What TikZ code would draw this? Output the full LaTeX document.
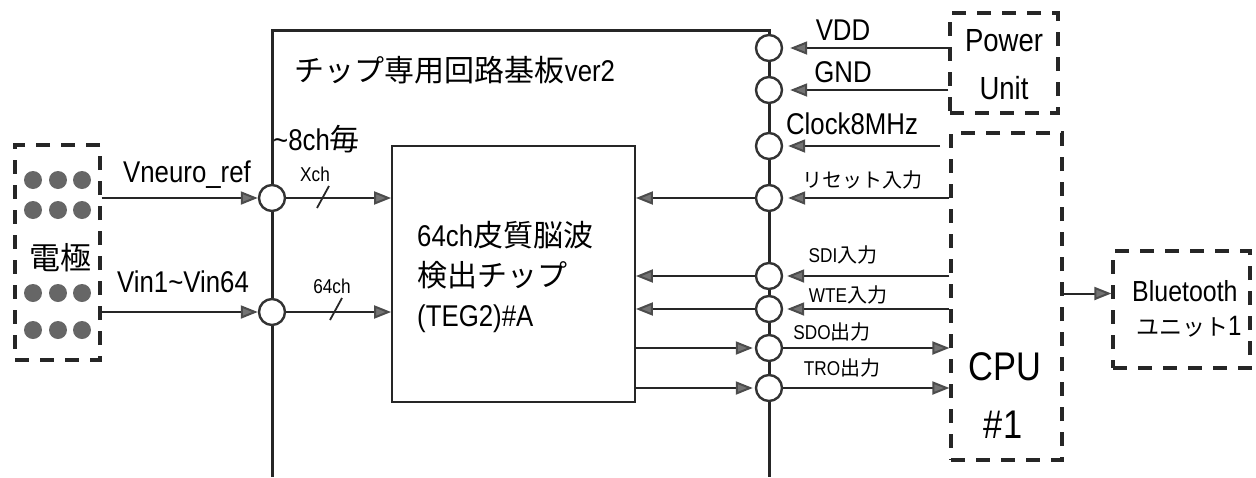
\documentclass[tikz,border=0pt]{standalone}
\usepackage{fontspec}
\setmainfont{Liberation Sans}
\newfontfamily\lat{Liberation Sans}[FakeStretch=0.86]
\newfontfamily\jp{Noto Sans CJK JP}
\usetikzlibrary{arrows.meta,calc}
\newcommand{\J}[1]{{\jp #1}}
\begin{document}
\begin{tikzpicture}[x=1pt,y=-1pt,
  board/.style={line width=3pt, draw=black!85},
  conn/.style={line width=2pt, draw=black!85, -{Triangle[length=17pt,width=13pt,fill=black!55,color=black!70]}},
  port/.style={circle, draw=black!80, line width=2.4pt, fill=white, minimum size=26pt, inner sep=0pt},
  dbox/.style={draw=black!85, line width=3.2pt, dash pattern=on 14pt off 11pt, minimum width=0pt, inner sep=0pt},
  edot/.style={circle, fill=black!60, minimum size=18pt, inner sep=0pt},
  big/.style={font=\fontsize{30}{35}\selectfont\lat, inner sep=0pt},
  small/.style={font=\fontsize{20}{24}\selectfont\lat, inner sep=0pt},
  huge/.style={font=\fontsize{40}{46}\selectfont\lat, inner sep=0pt},
  slashline/.style={line width=1.8pt, draw=black!85}
]
\useasboundingbox (0,0) rectangle (1256,477);

% board outline
\draw[board] (272,477) -- (272,30) -- (769,30) -- (769,477);

% chip
\node[draw=black!85, line width=1.8pt, minimum width=243pt, minimum height=256pt, inner sep=0pt] (chip) at (513.5,274) {};
\node[big, anchor=west, align=left, font=\fontsize{30}{40}\selectfont\lat] (chiptext) at (417,277)
  {64ch\J{皮質脳波}\\\J{検出チップ}\\(TEG2)\#A};

% ports
\node[port] (pREF) at (272,198) {};
\node[port] (pVIN) at (272,312) {};
\node[port] (pVDD) at (769,48) {};
\node[port] (pGND) at (769,90) {};
\node[port] (pCLK) at (769,146) {};
\node[port] (pRST) at (769,198) {};
\node[port] (pSDI) at (769,276) {};
\node[port] (pWTE) at (769,309) {};
\node[port] (pSDO) at (769,348) {};
\node[port] (pTRO) at (769,388) {};

% electrode box
\node[dbox, minimum width=85pt, minimum height=215pt] (elec) at (57.5,252.5) {};
\foreach \yy [count=\r] in {180,210,293,330}{
  \foreach \xx [count=\c] in {33,58,82}{
    \node[edot] (d\r\c) at (\xx,\yy) {};
  }
}
\node[big, font=\fontsize{31}{36}\selectfont\jp] (elabel) at (60,258) {電極};

% other boxes
\node[dbox, minimum width=108pt, minimum height=100pt] (power) at (1004,63) {};
\node[big, font=\fontsize{32}{36}\selectfont\lat] (powt1) at (1004,41) {Power};
\node[big, font=\fontsize{32}{36}\selectfont\lat] (powt2) at (1004,88) {Unit};
\node[dbox, minimum width=111pt, minimum height=327pt] (cpu) at (1006.5,296.5) {};
\node[huge] (cput1) at (1005,367) {CPU};
\node[huge] (cput2) at (1003,425) {\#1};
\node[dbox, minimum width=137pt, minimum height=117pt] (bt) at (1181.5,309.5) {};
\node[big, anchor=west, font=\fontsize{29}{32}\selectfont\lat] (btt1) at (1132,291) {Bluetooth};
\node[big, anchor=west, font=\fontsize{28}{30}\selectfont\lat] (btt2) at (1136,327) {{\fontsize{23}{28}\selectfont\jp ユニット}1};

% left side connectors
\draw[conn] (elec.east |- pREF) -- (pREF.west);
\draw[conn] (elec.east |- pVIN) -- (pVIN.west);
\draw[conn] (pREF.east) -- (chip.west |- pREF);
\draw[conn] (pVIN.east) -- (chip.west |- pVIN);
\coordinate (xs) at (323,197);
\coordinate (vs) at (336,309);
\draw[slashline] ([shift={(-6,11)}]xs) -- ([shift={(6,-11)}]xs);
\draw[slashline] ([shift={(-6,11)}]vs) -- ([shift={(6,-11)}]vs);

% right side connectors
\coordinate (clkstart) at (940,146);
\draw[conn, shorten >=7pt] (power.west |- pVDD) -- (pVDD.east);
\draw[conn, shorten >=7pt] (power.west |- pGND) -- (pGND.east);
\draw[conn, shorten >=5pt] (clkstart) -- (pCLK.east);
\draw[conn, shorten >=5pt] (cpu.west |- pRST) -- (pRST.east);
\draw[conn, shorten >=4pt] (cpu.west |- pSDI) -- (pSDI.east);
\draw[conn, shorten >=4pt] (cpu.west |- pWTE) -- (pWTE.east);
\draw[conn] (pSDO.east) -- (cpu.west |- pSDO);
\draw[conn] (pTRO.east) -- (cpu.west |- pTRO);
\draw[conn] (pRST.west) -- (chip.east |- pRST);
\draw[conn] (pSDI.west) -- (chip.east |- pSDI);
\draw[conn] (pWTE.west) -- (chip.east |- pWTE);
\draw[conn, shorten >=2pt] (chip.east |- pSDO) -- (pSDO.west);
\draw[conn, shorten >=2pt] (chip.east |- pTRO) -- (pTRO.west);
\draw[conn] ([yshift=16pt]bt.west -| cpu.east) -- ([yshift=16pt]bt.west);

% labels
\node[big] (lref) at (187,175) {Vneuro\_ref};
\node[big] (lvin) at (183,282) {Vin1\textasciitilde Vin64};
\node[small] (lx) at (315,174) {Xch};
\node[small] (l64) at (332,286) {64ch};
\node[big, anchor=west] (l8) at (273,139) {\textasciitilde 8ch\J{毎}};
\node[big, font=\fontsize{30}{35}\selectfont\jp] (ltitle) at (455,70) {チップ専用回路基板{\lat ver2}};
\node[big] (lvdd) at (843,30) {VDD};
\node[big] (lgnd) at (843,72) {GND};
\node[big] (lclk) at (852,124) {Clock8MHz};
\node[small, font=\fontsize{20}{24}\selectfont\jp] (lrst) at (862,180) {リセット入力};
\node[small] (lsdi) at (843,255) {SDI\J{入力}};
\node[small] (lwte) at (848,295) {WTE\J{入力}};
\node[small] (lsdo) at (832,332) {SDO\J{出力}};
\node[small] (ltro) at (842,368) {TRO\J{出力}};
\end{tikzpicture}
\end{document}
